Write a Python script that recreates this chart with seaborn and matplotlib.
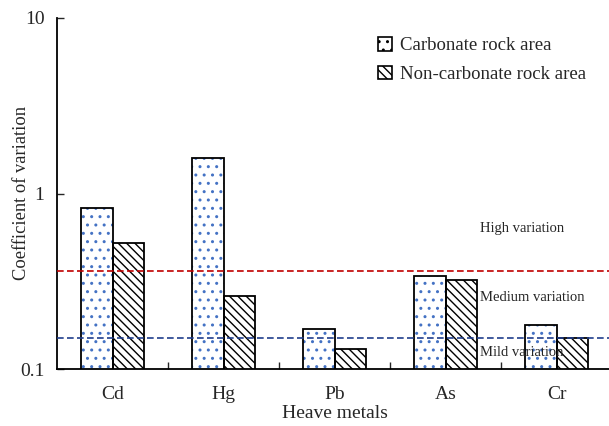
import matplotlib
matplotlib.use("Agg")
import matplotlib.pyplot as plt
import seaborn as sns
import pandas as pd
from matplotlib.patches import Patch, Rectangle

metals = ["Cd", "Hg", "Pb", "As", "Cr"]
carbonate = [0.83, 1.60, 0.169, 0.34, 0.178]
non_carbonate = [0.52, 0.26, 0.130, 0.32, 0.150]
series = ["Carbonate rock area", "Non-carbonate rock area"]
high_threshold = 0.36
mild_threshold = 0.15
yticks = [0.1, 1, 10]
ytick_labels = ["0.1", "1", "10"]

df = pd.DataFrame({
    "metal": metals * 2,
    "cv": carbonate + non_carbonate,
    "area": [series[0]] * len(metals) + [series[1]] * len(metals),
})

sns.set_style("white")
plt.rcParams["font.family"] = ["Liberation Serif", "DejaVu Serif"]
plt.rcParams["hatch.linewidth"] = 1.0

fig = plt.figure(figsize=(6.09, 4.26), dpi=100)
ax = fig.add_axes([57 / 609, (426 - 369) / 426, 555 / 609, 351 / 426])

sns.barplot(data=df, x="metal", y="cv", hue="area", order=metals, hue_order=series,
            palette=["white", "white"], width=0.57, gap=0, ax=ax, legend=False,
            edgecolor="black", linewidth=1.3, errorbar=None)
ax.set_yscale("log")
ax.set_ylim(0.1, 10)
ax.set_xlim(-0.5, 4.5)

bars = list(ax.patches)
n = len(metals)
for i, p in enumerate(bars):
    if i < n:
        p.set_hatch("..")
        p.set_edgecolor("#4472C4")
        p.set_linewidth(0)
        ax.add_patch(Rectangle(p.get_xy(), p.get_width(), p.get_height(),
                               fill=False, edgecolor="black", linewidth=1.3, zorder=p.get_zorder() + 0.1))
    else:
        p.set_hatch("\\\\\\\\")
        p.set_edgecolor("black")
        p.set_linewidth(1.3)

ax.axhline(high_threshold, color="#C00000", linestyle=(0, (4, 2)), linewidth=1.2, zorder=5)
ax.axhline(mild_threshold, color="#1F3D8C", linestyle=(0, (4, 2)), linewidth=1.2, zorder=5)

ax.text(3.31, 0.63, "High variation", fontsize=10.5, ha="left", va="center")
ax.text(3.31, 0.254, "Medium variation", fontsize=10.5, ha="left", va="center")
ax.text(3.31, 0.124, "Mild variation", fontsize=10.5, ha="left", va="center", zorder=6)

ax.set_yticks(yticks)
ax.set_yticklabels(ytick_labels)
ax.yaxis.set_minor_locator(matplotlib.ticker.NullLocator())
ax.tick_params(axis="y", which="major", direction="in", length=5, width=1, left=True,
               labelsize=14, pad=9)
ax.set_xticks(range(len(metals)))
ax.set_xticklabels(metals)
ax.tick_params(axis="x", which="major", length=0, labelsize=14, pad=12)
ax.set_xticks([0.5, 1.5, 2.5, 3.5], minor=True)
ax.tick_params(axis="x", which="minor", direction="in", length=5, width=1, bottom=True)

for s in ["top", "right"]:
    ax.spines[s].set_visible(False)
for s in ["left", "bottom"]:
    ax.spines[s].set_color("black")
    ax.spines[s].set_linewidth(1.3)

ax.set_ylabel("Coefficient of variation", fontsize=13.3)
ax.yaxis.set_label_coords((30 - 57) / 555, 0.5)
ax.set_xlabel("Heave metals", fontsize=14, labelpad=2)

handles = [Patch(facecolor="white", edgecolor="black", hatch="..", linewidth=1.2),
           Patch(facecolor="white", edgecolor="black", hatch="\\\\\\\\", linewidth=1.2)]
fig.legend(handles, series, loc="upper left", bbox_to_anchor=(378 / 609, 1 - 37 / 426),
           frameon=False, fontsize=13.5, handlelength=0.75, handleheight=0.75,
           handletextpad=0.4, labelspacing=0.6, borderpad=0, borderaxespad=0)

fig.savefig("out.png", dpi=100)
